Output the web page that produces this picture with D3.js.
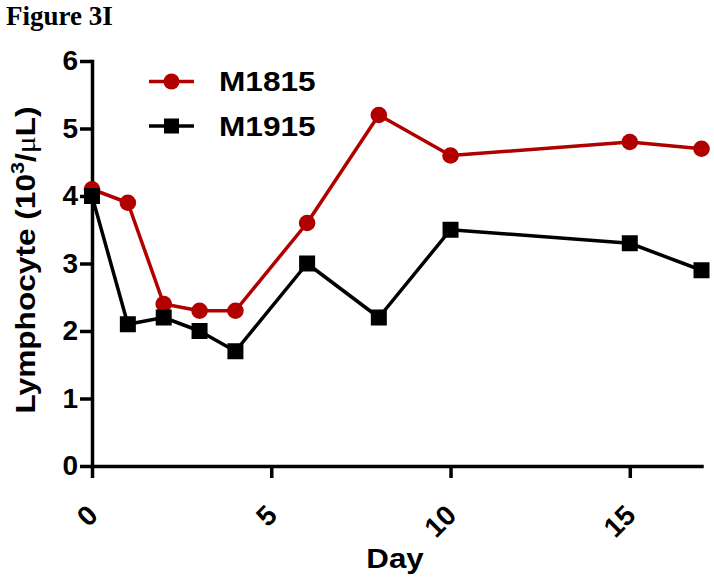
<!DOCTYPE html>
<html>
<head>
<meta charset="utf-8">
<script src="https://cdn.jsdelivr.net/npm/d3@7"></script>
<style>
  html, body { margin: 0; padding: 0; background: #fff; }
  svg { display: block; }
</style>
</head>
<body>
<script>
const days = [0, 1, 2, 3, 4, 6, 8, 10, 15, 17];
const m1815 = [4.1, 3.9, 2.4, 2.3, 2.3, 3.6, 5.2, 4.6, 4.8, 4.7];
const m1915 = [4.0, 2.1, 2.2, 2.0, 1.7, 3.0, 2.2, 3.5, 3.3, 2.9];
const seriesNames = ["M1815", "M1915"];
const xTicks = [0, 5, 10, 15];
const yTicks = [0, 1, 2, 3, 4, 5, 6];

const W = 714, H = 581;
const RED = "#b00000", BLACK = "#000000";
const sans = "'Liberation Sans', Arial, Helvetica, sans-serif";

const svg = d3.select("body").append("svg").attr("width", W).attr("height", H);

const x = d3.scaleLinear().domain([0, 17]).range([92, 701.5]);
const y = d3.scaleLinear().domain([0, 6]).range([466, 61]);

// Title
svg.append("text").attr("x", 6).attr("y", 25)
  .attr("font-family", "'Liberation Serif', 'Times New Roman', serif")
  .attr("font-weight", "bold").attr("font-size", 27).text("Figure 3I");

// Axes
const yAxis = svg.append("g").attr("transform", `translate(${x(0)},0)`)
  .call(d3.axisLeft(y).tickValues(yTicks).tickSize(12).tickSizeOuter(0).tickPadding(2).tickFormat(d3.format("d")));
const xAxis = svg.append("g").attr("transform", `translate(0,${y(0)})`)
  .call(d3.axisBottom(x).tickValues(xTicks).tickSize(12).tickSizeOuter(0).tickFormat(d3.format("d")));

[yAxis, xAxis].forEach(g => {
  g.select(".domain").attr("stroke", "#000").attr("stroke-width", 3.5).attr("stroke-linecap", "square");
  g.selectAll(".tick line").attr("stroke", "#000").attr("stroke-width", 3.5);
  g.selectAll(".tick text").attr("font-family", sans).attr("font-weight", "bold")
    .attr("font-size", 28).attr("fill", "#000");
});
xAxis.selectAll(".tick text")
  .attr("x", 0).attr("y", 0).attr("dy", 0)
  .attr("text-anchor", "end")
  .attr("transform", "translate(7,51) rotate(-45)");

// Axis labels
svg.append("text")
  .attr("transform", "translate(395,568) scale(1.12,1)")
  .attr("text-anchor", "middle")
  .attr("font-family", sans).attr("font-weight", "bold").attr("font-size", 28)
  .text("Day");

const yl = svg.append("text")
  .attr("transform", "translate(35,260) rotate(-90) scale(1.13,1)")
  .attr("text-anchor", "middle")
  .attr("font-family", sans).attr("font-weight", "bold").attr("font-size", 28);
yl.append("tspan").text("Lymphocyte (10");
yl.append("tspan").attr("font-size", 19).attr("dy", -11).text("3");
yl.append("tspan").attr("dy", 11).text("/");
yl.append("tspan").attr("font-family", "'Liberation Serif', serif").attr("font-weight", "normal").text("μ");
yl.append("tspan").text("L)");

// Series
const series = [
  { name: seriesNames[0], values: m1815, color: RED, shape: "circle" },
  { name: seriesNames[1], values: m1915, color: BLACK, shape: "square" }
];
const line = d3.line().x(d => x(d[0])).y(d => y(d[1]));

series.forEach(s => {
  const pts = days.map((d, i) => [d, s.values[i]]);
  svg.append("path").datum(pts).attr("d", line)
    .attr("fill", "none").attr("stroke", s.color).attr("stroke-width", 3.5)
    .attr("stroke-linejoin", "round");
  if (s.shape === "circle") {
    svg.append("g").selectAll("circle").data(pts).join("circle")
      .attr("cx", d => x(d[0])).attr("cy", d => y(d[1])).attr("r", 8.3)
      .attr("fill", s.color);
  } else {
    svg.append("g").selectAll("rect").data(pts).join("rect")
      .attr("x", d => x(d[0]) - 8).attr("y", d => y(d[1]) - 8)
      .attr("width", 16).attr("height", 16).attr("fill", s.color);
  }
});

// Legend
const legY = [81.5, 126];
series.forEach((s, i) => {
  const g = svg.append("g");
  g.append("line").attr("x1", 149).attr("x2", 194).attr("y1", legY[i]).attr("y2", legY[i])
    .attr("stroke", s.color).attr("stroke-width", 3.5);
  if (s.shape === "circle") {
    g.append("circle").attr("cx", 171.5).attr("cy", legY[i]).attr("r", 8).attr("fill", s.color);
  } else {
    g.append("rect").attr("x", 164).attr("y", legY[i] - 7.5).attr("width", 15).attr("height", 15).attr("fill", s.color);
  }
  g.append("text").attr("transform", `translate(219,${legY[i] + 9.5}) scale(1.13,1)`)
    .attr("font-family", sans).attr("font-weight", "bold").attr("font-size", 28)
    .text(s.name);
});
</script>
</body>
</html>
